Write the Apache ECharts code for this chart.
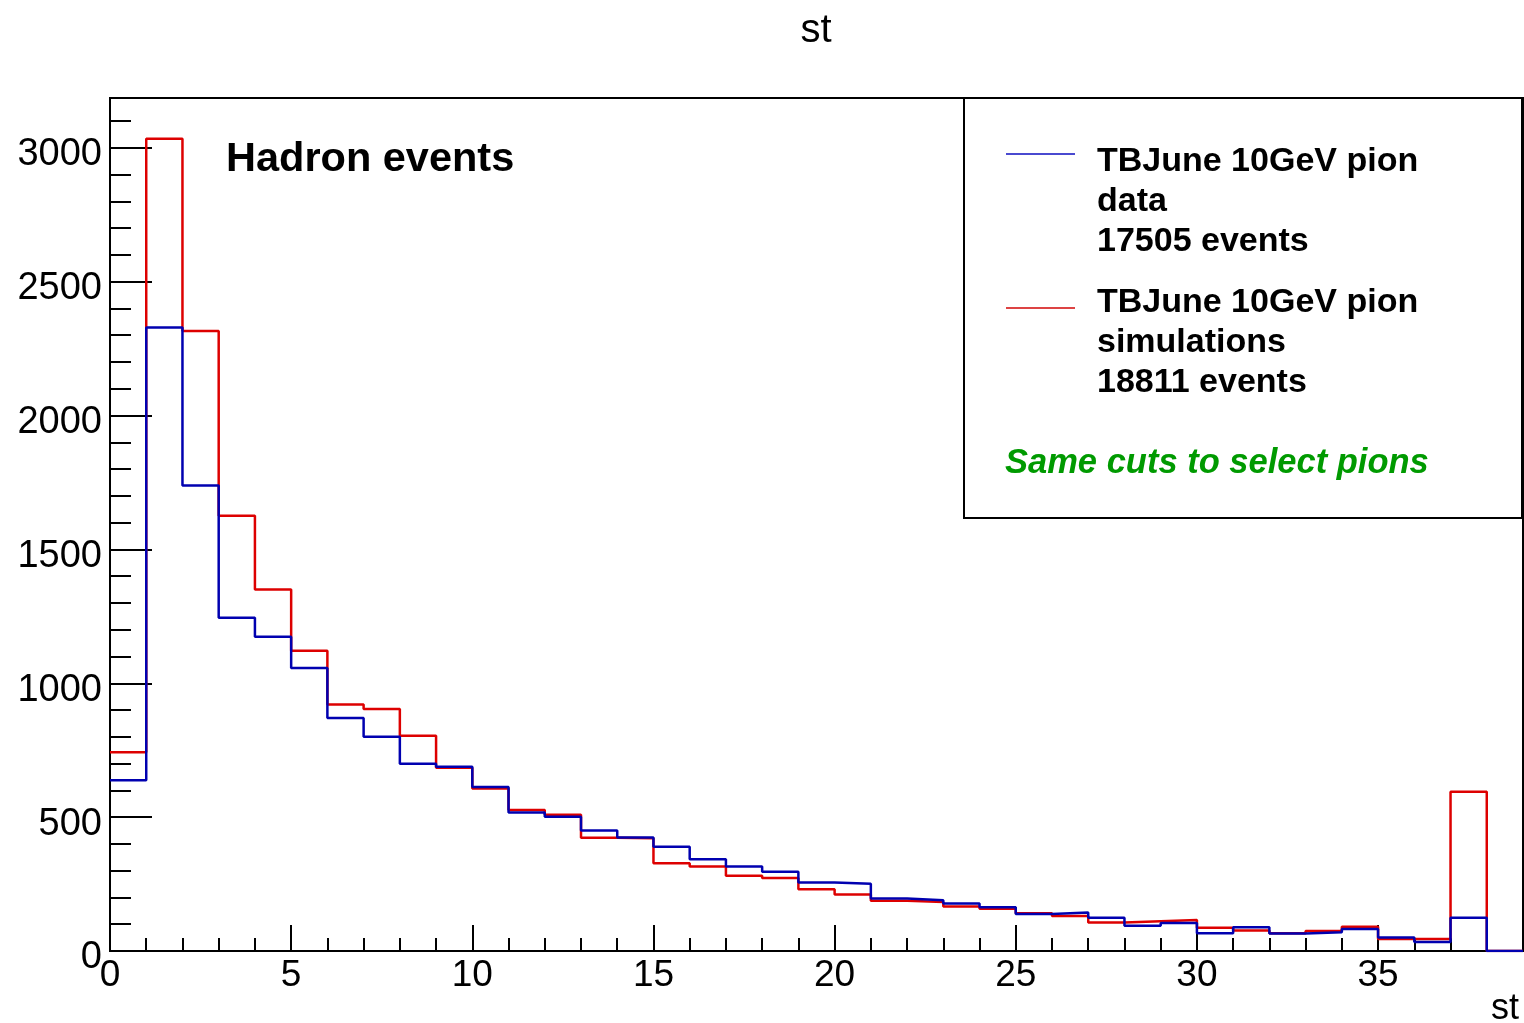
<!DOCTYPE html>
<html>
<head>
<meta charset="utf-8">
<script src="https://cdn.jsdelivr.net/npm/echarts@6/dist/echarts.min.js"></script>
<style>
  html, body { margin: 0; padding: 0; background: #fff; }
  #chart { width: 1524px; height: 1023px; }
</style>
</head>
<body>
<div id="chart"></div>
<script>
// ---- data (bin contents, bins of width 1 from 0 to 39) ----
const binEdges = [0,1,2,3,4,5,6,7,8,9,10,11,12,13,14,15,16,17,18,19,20,21,22,23,24,25,26,27,28,29,30,31,32,33,34,35,36,37,38,39];
const dataCounts = [638, 2329, 1739, 1245, 1174, 1057, 870, 800, 699, 688, 613, 517, 501, 450, 424, 389, 343, 316, 296, 256, 251, 196, 190, 177, 163, 138, 144, 124, 94, 105, 66, 89, 65, 70, 82, 50, 34, 124, 0];
const simCounts  = [742, 3034, 2316, 1626, 1350, 1121, 921, 904, 804, 684, 607, 527, 509, 423, 421, 328, 316, 281, 273, 231, 211, 188, 183, 166, 158, 141, 131, 106, 111, 116, 87, 77, 66, 75, 91, 45, 45, 595, 0];
const xMajorTicks = [0, 5, 10, 15, 20, 25, 30, 35];
const yMajorTicks = [0, 500, 1000, 1500, 2000, 2500, 3000];
const yMinorTicks = [0,100,200,300,400,500,600,700,800,900,1000,1100,1200,1300,1400,1500,1600,1700,1800,1900,2000,2100,2200,2300,2400,2500,2600,2700,2800,2900,3000,3100];
const yMax = 3186;
const titleText = 'st';
const axisTitle = 'st';
const panelLabel = 'Hadron events';
const legendData = ['TBJune 10GeV pion\ndata\n17505 events'];
const legendSim  = ['TBJune 10GeV pion\nsimulations\n18811 events'];
const noteText = 'Same cuts to select pions';

const FONT = '"Liberation Sans", Arial, Helvetica, sans-serif';
const BLUE = '#0000b0';
const RED = '#dd0000';

function toSteps(counts) {
  const pts = counts.map((v, i) => [binEdges[i], v]);
  pts.push([binEdges[binEdges.length - 1], counts[counts.length - 1]]);
  return pts;
}

const chart = echarts.init(document.getElementById('chart'), null, { renderer: 'canvas' });

const option = {
  animation: false,
  backgroundColor: '#ffffff',
  title: {
    text: titleText,
    left: 811,
    top: 6,
    textAlign: 'center',
    textStyle: { fontFamily: FONT, fontSize: 40, fontWeight: 'normal', color: '#000' }
  },
  grid: {
    left: 110, top: 98, width: 1413, height: 853,
    outerBoundsMode: 'none', containLabel: false,
    show: true, borderColor: '#000', borderWidth: 2, backgroundColor: 'transparent'
  },
  xAxis: [
    {
      type: 'value', min: 0, max: 39, position: 'bottom',
      axisLine: { show: true, onZero: false, lineStyle: { color: '#000', width: 2 } },
      axisTick: { show: true, inside: true, length: 26, customValues: xMajorTicks, lineStyle: { color: '#000', width: 2 } },
      axisLabel: { show: true, customValues: xMajorTicks, margin: 6, color: '#000', fontFamily: FONT, fontSize: 37,
                   formatter: v => String(v) },
      splitLine: { show: false },
      name: axisTitle, nameLocation: 'end', nameGap: -4,
      nameTextStyle: { fontFamily: FONT, fontSize: 36, color: '#000', align: 'right', verticalAlign: 'top', padding: [40, 0, 0, 0] }
    },
    {
      type: 'value', min: 0, max: 39, interval: 1, position: 'bottom',
      axisLine: { show: false },
      axisTick: { show: true, inside: true, length: 13, lineStyle: { color: '#000', width: 2 } },
      axisLabel: { show: false },
      splitLine: { show: false }
    }
  ],
  yAxis: [
    {
      type: 'value', min: 0, max: yMax, position: 'left',
      axisLine: { show: true, onZero: false, lineStyle: { color: '#000', width: 2 } },
      axisTick: { show: true, inside: true, length: 42, customValues: yMajorTicks, lineStyle: { color: '#000', width: 2 } },
      axisLabel: { show: true, customValues: yMajorTicks, margin: 8, color: '#000', fontFamily: FONT, fontSize: 38,
                   verticalAlign: 'top', lineHeight: 14, formatter: v => String(v) },
      splitLine: { show: false }
    },
    {
      type: 'value', min: 0, max: yMax, position: 'left',
      axisLine: { show: false },
      axisTick: { show: true, inside: true, length: 21, customValues: yMinorTicks, lineStyle: { color: '#000', width: 2 } },
      axisLabel: { show: false },
      splitLine: { show: false }
    }
  ],
  series: [
    {
      name: 'simulations', type: 'line', step: 'end', xAxisIndex: 0, yAxisIndex: 0,
      data: toSteps(simCounts), showSymbol: false, symbol: 'none',
      lineStyle: { color: RED, width: 2.5 }, itemStyle: { color: RED }, z: 3
    },
    {
      name: 'data', type: 'line', step: 'end', xAxisIndex: 0, yAxisIndex: 0,
      data: toSteps(dataCounts), showSymbol: false, symbol: 'none',
      lineStyle: { color: BLUE, width: 2.5 }, itemStyle: { color: BLUE }, z: 4
    }
  ],
  graphic: [
    {
      type: 'text', left: 226, top: 139, z: 50,
      style: { text: panelLabel, fontFamily: FONT, fontSize: 41.5, fontWeight: 'bold', fill: '#000' }
    },
    {
      type: 'rect', z: 100,
      shape: { x: 964, y: 98, width: 558, height: 420 },
      style: { fill: '#fff', stroke: '#000', lineWidth: 2 }
    },
    {
      type: 'line', z: 101,
      shape: { x1: 1006, y1: 154, x2: 1075, y2: 154 },
      style: { stroke: '#4a4ad0', lineWidth: 2 }
    },
    {
      type: 'line', z: 101,
      shape: { x1: 1006, y1: 308, x2: 1075, y2: 308 },
      style: { stroke: '#dd4444', lineWidth: 2 }
    },
    {
      type: 'text', left: 1097, top: 142, z: 101,
      style: { text: legendData[0], fontFamily: FONT, fontSize: 34, fontWeight: 'bold', fill: '#000', lineHeight: 40 }
    },
    {
      type: 'text', left: 1097, top: 283, z: 101,
      style: { text: legendSim[0], fontFamily: FONT, fontSize: 34, fontWeight: 'bold', fill: '#000', lineHeight: 40 }
    },
    {
      type: 'text', left: 1005, top: 443, z: 101,
      style: { text: noteText, fontFamily: FONT, fontSize: 34.5, fontWeight: 'bold', fontStyle: 'italic', fill: '#009a00', lineHeight: 40 }
    }
  ]
};

chart.setOption(option);
</script>
</body>
</html>
